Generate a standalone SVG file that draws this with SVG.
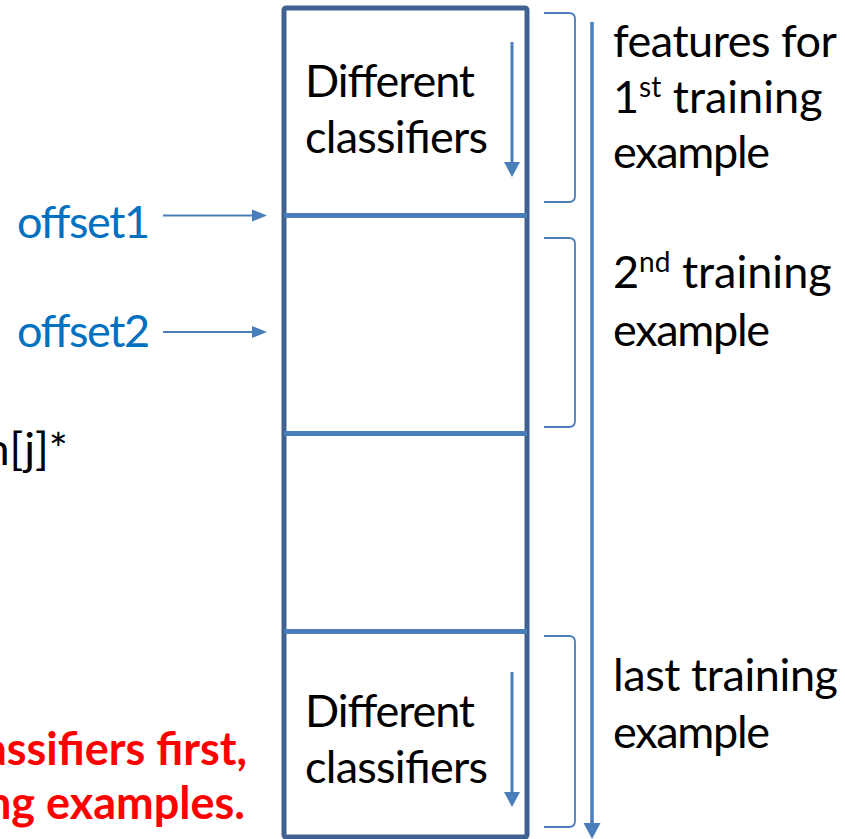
<svg xmlns="http://www.w3.org/2000/svg" width="845" height="839" viewBox="0 0 845 839">
<defs>
<style>
.t{font-family:"Lato","Liberation Sans",sans-serif;font-size:45px;fill:#000}
.off{fill:#0070C0}
.red{fill:#FF0000;font-weight:bold}
.div{stroke:#4A7EBB;stroke-width:5;fill:none}
.arr{stroke:#4A7EBB;fill:none}
.head{fill:#4A7EBB}
.br{stroke:#4A7EBB;stroke-width:1.8;fill:none}
</style>
</defs>
<rect width="845" height="839" fill="#fff"/>
<g id="memory-column">
<rect x="284" y="8" width="243" height="829" rx="2" fill="#fff" stroke="#3F6291" stroke-width="5"/>
<line class="div" x1="284" y1="215.5" x2="527" y2="215.5"/>
<line class="div" x1="284" y1="433.5" x2="527" y2="433.5"/>
<line class="div" x1="284" y1="631.5" x2="527" y2="631.5"/>
</g>
<g id="block1">
<text class="t" x="305" y="97" textLength="170">Different</text>
<text class="t" x="305" y="153" textLength="183">classifiers</text>
</g>
<g id="block4">
<text class="t" x="305" y="727" textLength="170">Different</text>
<text class="t" x="305" y="783" textLength="183">classifiers</text>
</g>
<g id="offset1">
<text class="t off" x="17" y="238" textLength="133">offset1</text>
</g>
<g id="offset2">
<text class="t off" x="17" y="347" textLength="133">offset2</text>
</g>
<g id="formula">
<text class="t" x="68" y="465" text-anchor="end">n[j]*</text>
</g>
<g id="note">
<text class="t red" x="247" y="765" text-anchor="end">assifiers first,</text>
<text class="t red" x="245" y="819" text-anchor="end">ng examples.</text>
</g>
<g id="label1">
<text class="t" x="613" y="57" textLength="224">features for</text>
<text class="t" x="613" y="113">1<tspan font-size="28" dy="-16">st</tspan><tspan dy="16"> training</tspan></text>
<text class="t" x="613" y="168" textLength="157">example</text>
</g>
<g id="label2">
<text class="t" x="613" y="288">2<tspan font-size="28" dy="-16">nd</tspan><tspan dy="16"> training</tspan></text>
<text class="t" x="613" y="346" textLength="157">example</text>
</g>
<g id="label3">
<text class="t" x="613" y="691" textLength="225">last training</text>
<text class="t" x="613" y="748" textLength="157">example</text>
</g>
<g id="connectors">
<line class="arr" stroke-width="3" x1="512" y1="42" x2="512" y2="163"/>
<polygon class="head" points="504,162 520,162 512,177"/>
<line class="arr" stroke-width="3" x1="512" y1="672" x2="512" y2="793"/>
<polygon class="head" points="504,792 520,792 512,807"/>
<line class="arr" stroke-width="3.5" x1="592" y1="22" x2="592" y2="824"/>
<polygon class="head" points="583.5,823 600.5,823 592,839"/>
<line class="arr" stroke-width="2" x1="163" y1="215.5" x2="254" y2="215.5"/>
<polygon class="head" points="252,209.5 252,221.5 267,215.5"/>
<line class="arr" stroke-width="2" x1="163" y1="332" x2="254" y2="332"/>
<polygon class="head" points="252,326 252,338 267,332"/>
<path class="br" d="M544,13 L569,13 Q575,13 575,19 V196 Q575,202 569,202 L544,202"/>
<path class="br" d="M544,238 L569,238 Q575,238 575,244 V421 Q575,427 569,427 L544,427"/>
<path class="br" d="M544,636 L569,636 Q575,636 575,642 V821 Q575,827 569,827 L544,827"/>
</g>
</svg>
